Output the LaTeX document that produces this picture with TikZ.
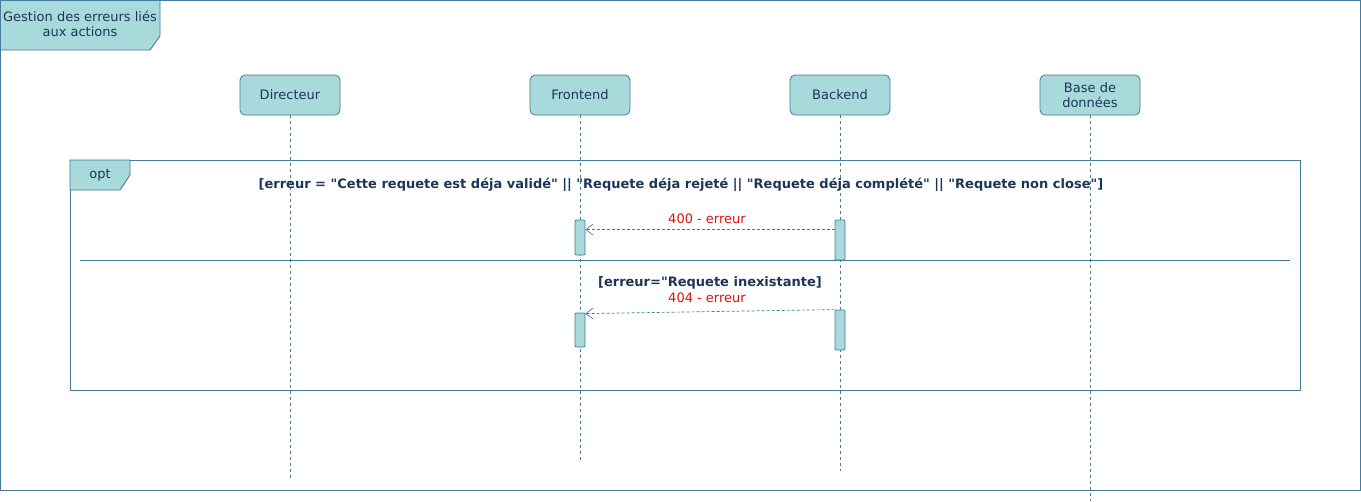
\documentclass[tikz,border=0pt]{standalone}
\usepackage{fontspec}
\setmainfont{DejaVu Sans}
\usepackage{xcolor}
\usetikzlibrary{arrows.meta,positioning,calc}
\definecolor{boxfill}{HTML}{A8DADC}
\definecolor{boxline}{HTML}{457B9D}
\definecolor{textdark}{HTML}{1D3557}
\definecolor{msgred}{HTML}{E01010}
\newcommand{\dq}{\XeTeXglyph\XeTeXcharglyph"22\relax}

\begin{document}
\begin{tikzpicture}[x=1pt,y=-1pt,
  font=\fontsize{13}{15.5}\selectfont,
  actor/.style={rectangle, rounded corners=5pt, draw=boxline, line width=0.8pt, fill=boxfill, text=textdark, minimum width=100pt, minimum height=40pt, align=center, inner sep=1pt},
  activation/.style={rectangle, rounded corners=1pt, draw=boxline, line width=0.8pt, fill=boxfill, minimum width=10pt, inner sep=0pt},
  lifeline/.style={draw=boxline, line width=0.7pt, dash pattern=on 3pt off 3pt},
  frameline/.style={draw=boxline, line width=0.9pt},
  tab/.style={draw=boxline, fill=boxfill, line width=0.9pt},
  guard/.style={text=textdark, font=\fontsize{13}{16}\selectfont\bfseries},
  reply/.style={draw=boxline, line width=0.7pt, dash pattern=on 3pt off 2pt, -{Straight Barb[length=7pt,width=11pt]}},
  msglabel/.style={text=msgred}
]
\useasboundingbox (0,0) rectangle (1361,501);

% Outer frame and title tab
\draw[frameline] (0.5,0.5) rectangle (1360,490);
\draw[tab] (0.5,0.5) -- (160,0.5) -- (160,36) -- (150,50) -- (0.5,50) -- cycle;
\node[text=textdark, align=center] (title) at (80,24) {Gestion des erreurs liés\\aux actions};

% Lifeline heads
\node[actor] (director) at (290,95) {Directeur};
\node[actor] (frontend) at (580,95) {Frontend};
\node[actor] (backend) at (840,95) {Backend};
\node[actor] (database) at (1090,95) {Base de\\données};

% Lifeline ends
\coordinate (directorend) at (290,478);
\coordinate (frontendend) at (580,461);
\coordinate (backendend) at (840,471);
\coordinate (databaseend) at (1090,501);

\draw[lifeline] (director) -- (directorend);
\draw[lifeline] (frontend) -- (frontendend);
\draw[lifeline] (backend) -- (backendend);
\draw[lifeline] (database) -- (databaseend);

% Opt fragment
\draw[frameline] (70,160) rectangle (1300,390);
\draw[tab] (70,160) -- (130,160) -- (130,175) -- (120,190) -- (70,190) -- cycle;
\node[text=textdark] (opt) at (100,175) {opt};
\node[guard] (guardone) at (681,185) {[erreur = \dq Cette requete est déja validé\dq{} || \dq Requete déja rejeté || \dq Requete déja complété\dq{} || \dq Requete non close\dq]};
\draw[frameline] (80,260) -- (1290,260);
\node[guard] (guardtwo) at (710,283) {[erreur=\dq Requete inexistante]};

% Activations
\node[activation, minimum height=35pt] (fact1) at (580,237.5) {};
\node[activation, minimum height=40pt] (bact1) at (840,240) {};
\node[activation, minimum height=34pt] (fact2) at (580,330) {};
\node[activation, minimum height=40pt] (bact2) at (840,330) {};

% Replies
\draw[reply] ([yshift=-10pt]bact1.north west) -- ([yshift=-10pt]fact1.north east);
\node[msglabel] (replyone) at (707,219) {400 - erreur};
\draw[reply] (bact2.north west) -- ([yshift=-1pt]fact2.north east);
\node[msglabel] (replytwo) at (707,298) {404 - erreur};

\end{tikzpicture}
\end{document}
